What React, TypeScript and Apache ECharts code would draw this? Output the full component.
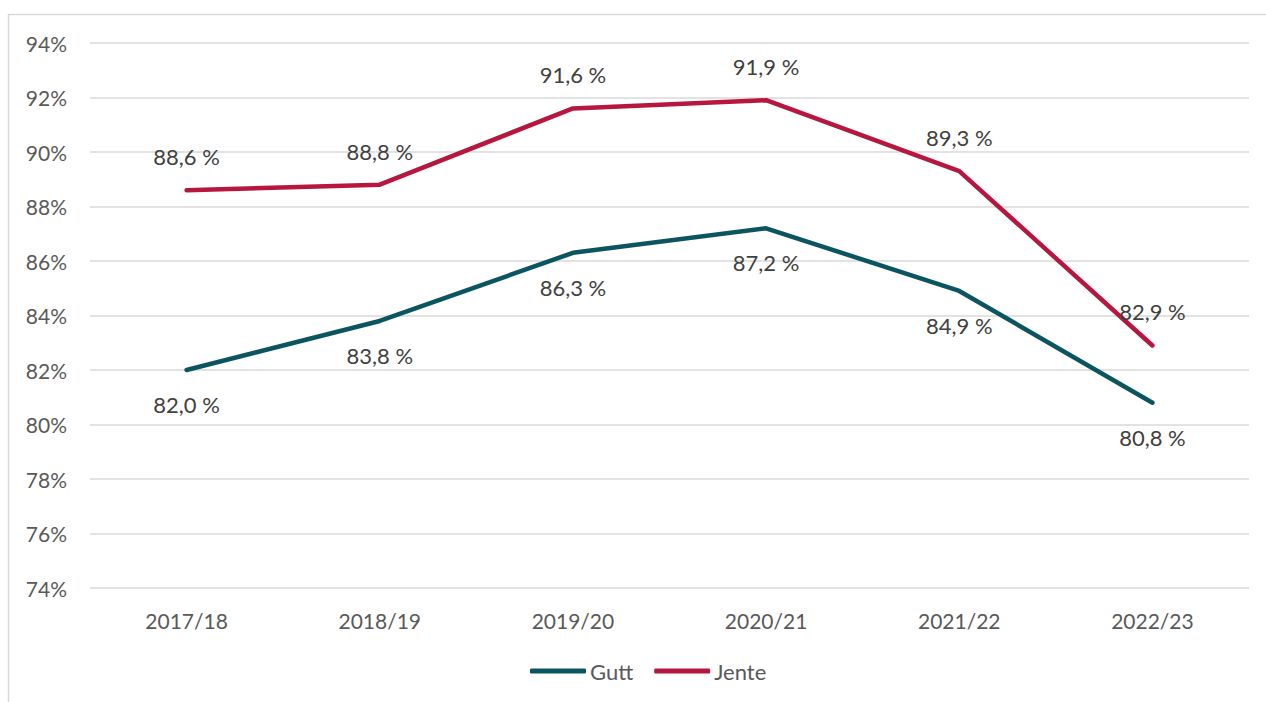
import React, { useEffect, useRef } from "react";
import * as echarts from "echarts";

const categories = ["2017/18", "2018/19", "2019/20", "2020/21", "2021/22", "2022/23"];
const gutt = [82.0, 83.8, 86.3, 87.2, 84.9, 80.8];
const jente = [88.6, 88.8, 91.6, 91.9, 89.3, 82.9];
const seriesNames = ["Gutt", "Jente"];
const colors = ["#0B5560", "#B7173F"];

const FONT = "Lato";

export default function App() {
  const ref = useRef<HTMLDivElement>(null);
  useEffect(() => {
    const chart = echarts.init(ref.current!, undefined, { renderer: "svg" });
    const fmt = (p: any) => p.value.toFixed(1).replace(".", ",") + " %";
    chart.setOption({
      animation: false,
      backgroundColor: "#ffffff",
      textStyle: { fontFamily: FONT },
      graphic: [
        { type: "line", shape: { x1: 8, y1: 14.5, x2: 1266, y2: 14.5 }, style: { stroke: "#d9d9d9", lineWidth: 1.5 } },
        { type: "line", shape: { x1: 8.5, y1: 14, x2: 8.5, y2: 702 }, style: { stroke: "#d9d9d9", lineWidth: 1.5 } },
      ],
      grid: { left: 90, right: 17, top: 43, bottom: 114 },
      legend: {
        bottom: 15,
        left: 525,
        itemWidth: 56,
        itemHeight: 5,
        itemGap: 21,
        icon: "roundRect",
        textStyle: { fontFamily: FONT, fontSize: 22, color: "#595959", padding: [0, 0, 0, -1] },
        data: seriesNames,
      },
      xAxis: {
        type: "category",
        data: categories,
        boundaryGap: true,
        axisLine: { show: false },
        axisTick: { show: false },
        axisLabel: { fontFamily: FONT, fontSize: 21, color: "#595959", margin: 22 },
      },
      yAxis: {
        type: "value",
        min: 74,
        max: 94,
        interval: 2,
        axisLine: { show: false },
        axisTick: { show: false },
        splitLine: { lineStyle: { color: "#d9d9d9", width: 1.5 } },
        axisLabel: {
          fontFamily: FONT,
          fontSize: 21,
          color: "#595959",
          margin: 23,
          formatter: (v: number) => v + "%",
        },
      },
      series: [
        {
          name: seriesNames[0],
          type: "line",
          data: gutt,
          color: colors[0],
          symbol: "circle",
          symbolSize: 1,
          lineStyle: { width: 4.5, color: colors[0], cap: "round" },
          label: { show: true, position: "bottom", distance: 23, fontFamily: FONT, fontSize: 22, color: "#404040", formatter: fmt },
        },
        {
          name: seriesNames[1],
          type: "line",
          data: jente,
          color: colors[1],
          symbol: "circle",
          symbolSize: 1,
          lineStyle: { width: 4.5, color: colors[1], cap: "round" },
          label: { show: true, position: "top", distance: 22, fontFamily: FONT, fontSize: 22, color: "#404040", formatter: fmt },
        },
      ],
    });
    return () => chart.dispose();
  }, []);
  return <div ref={ref} style={{ position: "absolute", left: 0, top: 0, width: 1266, height: 702 }} />;
}
